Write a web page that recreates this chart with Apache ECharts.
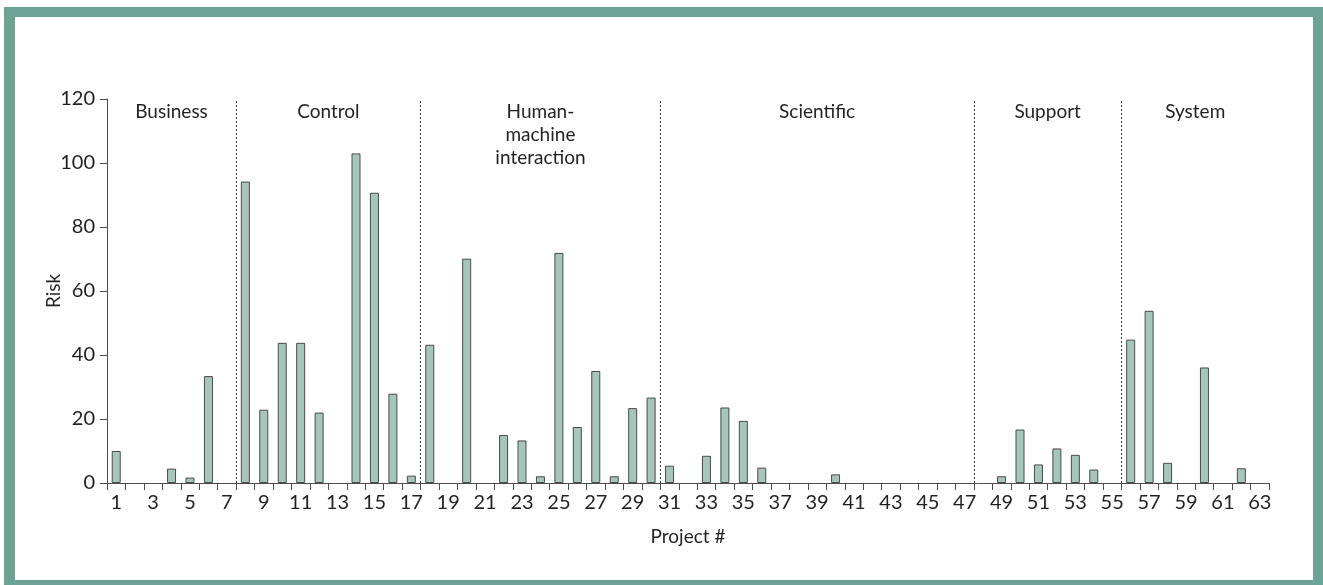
<!DOCTYPE html>
<html>
<head>
<meta charset="utf-8">
<script src="https://cdn.jsdelivr.net/npm/echarts@6/dist/echarts.min.js"></script>
<style>
html,body{margin:0;padding:0;background:#fff;}
#chart{width:1323px;height:585px;}
</style>
</head>
<body>
<div id="chart"></div>
<script>
const projects = ['1','2','3','4','5','6','7','8','9','10','11','12','13','14','15','16','17','18','19','20','21','22','23','24','25','26','27','28','29','30','31','32','33','34','35','36','37','38','39','40','41','42','43','44','45','46','47','48','49','50','51','52','53','54','55','56','57','58','59','60','61','62','63'];
const risk = [10, null, null, 4.5, 1.7, 33.4, null,
  94.2, 22.9, 43.8, 43.8, 22, null, 103, 90.7, 27.9, 2.3,
  43.2, null, 70.1, null, 15, 13.3, 2.1, 71.9, 17.5, 35, 2.1, 23.4, 26.7,
  5.4, null, 8.5, 23.6, 19.4, 4.8, null, null, null, 2.7, null, null, null, null, null, null, null,
  null, 2.1, 16.7, 5.8, 10.8, 8.8, 4.2, null,
  44.8, 53.8, 6.3, null, 36.1, null, 4.6, null];
const groupNames = ['Business', 'Control', 'Human-\nmachine\ninteraction', 'Scientific', 'Support', 'System'];
const groupBounds = [0, 7, 17, 30, 47, 55, 63];
const yTicks = [0, 20, 40, 60, 80, 100, 120];

const FONT = 'Lato';
const TXT = '#231f20';
const AX = '#4d4d4d';
const TEAL = '#6ca395';

const areas = groupNames.map((n, i) => [
  { xAxis: groupBounds[i], name: n },
  { xAxis: groupBounds[i + 1] }
]);
const dividers = groupBounds.slice(1, -1).map(v => ({ xAxis: v }));

const chart = echarts.init(document.getElementById('chart'), null, { renderer: 'canvas' });
chart.setOption({
  animation: false,
  backgroundColor: '#fff',
  textStyle: { fontFamily: FONT },
  graphic: [
    { type: 'rect', shape: { x: 4, y: 7, width: 11, height: 578 }, style: { fill: TEAL }, silent: true },
    { type: 'rect', shape: { x: 4, y: 7, width: 1319, height: 10 }, style: { fill: TEAL }, silent: true },
    { type: 'rect', shape: { x: 1313, y: 7, width: 10, height: 578 }, style: { fill: TEAL }, silent: true },
    { type: 'rect', shape: { x: 4, y: 580, width: 1319, height: 5 }, style: { fill: TEAL }, silent: true }
  ],
  grid: { left: 107, right: 54, top: 99, bottom: 102, containLabel: false },
  xAxis: [
    {
      type: 'category',
      data: projects,
      boundaryGap: true,
      name: 'Project #',
      nameLocation: 'middle',
      nameGap: 44,
      nameTextStyle: { fontFamily: FONT, fontSize: 19, color: TXT },
      axisLine: { lineStyle: { color: AX, width: 1 } },
      axisTick: { show: true, interval: 0, length: 7, lineStyle: { color: AX } },
      axisLabel: { interval: 1, margin: 10, fontFamily: FONT, fontSize: 20, color: TXT },
      splitLine: { show: false }
    },
    {
      type: 'value',
      min: 0, max: 63,
      show: false,
      splitLine: { show: false }
    }
  ],
  yAxis: {
    type: 'value',
    min: yTicks[0], max: yTicks[yTicks.length - 1], interval: 20,
    name: 'Risk',
    nameLocation: 'middle',
    nameGap: 44,
    nameMoveOverlap: false,
    nameRotate: 90,
    nameTextStyle: { fontFamily: FONT, fontSize: 19, color: TXT },
    axisLine: { show: true, lineStyle: { color: AX, width: 1 } },
    axisTick: { show: true, length: 7, lineStyle: { color: AX } },
    axisLabel: { margin: 12, fontFamily: FONT, fontSize: 20, color: TXT },
    splitLine: { show: false }
  },
  series: [
    {
      type: 'bar',
      data: risk,
      barWidth: 9,
      itemStyle: { color: '#a6c6bc', borderColor: '#4a4a4a', borderWidth: 1 },
      silent: true
    },
    {
      type: 'line',
      xAxisIndex: 1,
      yAxisIndex: 0,
      data: [],
      silent: true,
      markLine: {
        silent: true,
        symbol: ['none', 'none'],
        label: { show: false },
        lineStyle: { color: '#333', width: 1, type: [2, 2] },
        data: dividers
      },
      markArea: {
        silent: true,
        itemStyle: { color: 'rgba(0,0,0,0)' },
        label: {
          show: true,
          position: 'insideTop',
          distance: 1,
          fontFamily: FONT,
          fontSize: 19,
          lineHeight: 23,
          color: TXT,
          align: 'center'
        },
        data: areas
      }
    }
  ]
});
</script>
</body>
</html>
